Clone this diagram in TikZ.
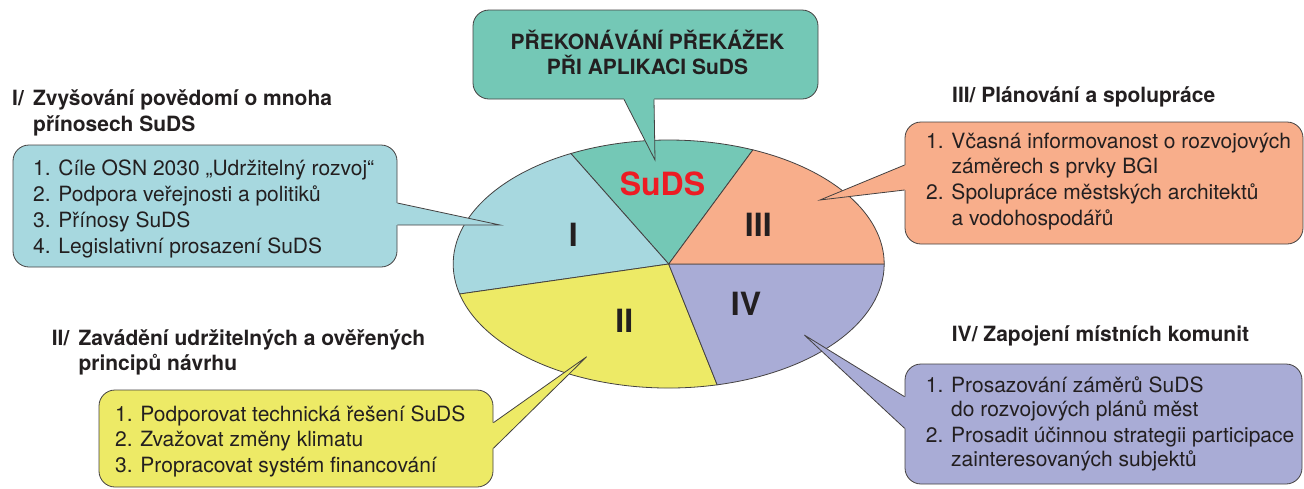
\documentclass[tikz,border=0pt]{standalone}
\usepackage{fontspec}
\setmainfont{TeX Gyre Heros}
\usetikzlibrary{calc}

\definecolor{ink}{HTML}{231F20}
\definecolor{cteal}{HTML}{74C8B6}
\definecolor{cblue}{HTML}{A7D8DF}
\definecolor{cyellow}{HTML}{EDEA66}
\definecolor{csalmon}{HTML}{F8AE8B}
\definecolor{clav}{HTML}{A9ACD6}
\definecolor{cred}{HTML}{ED1C24}

% one slice of the elliptical pie, between two parametric angles
\newcommand\pieslice[3]{%
  \filldraw[edge, fill=#1] (C) -- ++(#2:215.5pt and 124pt)
    arc[start angle=#2, end angle=#3, x radius=215.5pt, y radius=124pt] -- cycle;}

\begin{document}
\begin{tikzpicture}[x=1pt, y=-1pt,
  edge/.style={draw=ink!85, line width=0.8pt},
  box/.style={edge, rounded corners=16pt, inner sep=0pt},
  txt/.style={anchor=base west, inner sep=0pt, text=ink, font=\fontsize{21}{25}\selectfont},
  hd/.style={txt, font=\fontsize{21}{25}\selectfont\bfseries},
  hdc/.style={hd, anchor=base},
  big/.style={anchor=base, inner sep=0pt, text=ink, font=\fontsize{32}{36}\selectfont\bfseries},
]
\useasboundingbox (0,0) rectangle (1304,488);

% ---- pie ----
\coordinate (C) at (668.7,264);
\pieslice{cteal}{67}{117}
\pieslice{cblue}{117}{194}
\pieslice{cyellow}{194}{283}
\pieslice{clav}{283}{360}
\pieslice{csalmon}{0}{67}

\node[big, text=cred] (lS)   at (662.5,195) {SuDS};
\node[big]            (lI)   at (573.3,246.7) {I};
\node[big]            (lIII) at (758.3,236) {III};
\node[big]            (lIV)  at (746,315) {IV};
\node[big]            (lII)  at (624.3,332.7) {II};

% ---- top callout ----
\node[box, fill=cteal, minimum width=345pt, minimum height=89pt] (boxS) at (645.5,54.5) {};
\coordinate (tipS) at (655,160);
\fill[cteal] ([xshift=-21.5pt,yshift=1.5pt]boxS.south) -- ([xshift=-21.5pt]boxS.south) -- (tipS)
  -- ([xshift=8.5pt]boxS.south) -- ([xshift=8.5pt,yshift=1.5pt]boxS.south) -- cycle;
\draw[edge] ([xshift=-21.5pt]boxS.south) -- (tipS) -- ([xshift=8.5pt]boxS.south);
\node[hdc] (tS1) at (647.5,49) {PŘEKONÁVÁNÍ PŘEKÁŽEK};
\node[hdc] (tS2) at (647.5,74) {PŘI APLIKACI SuDS};

% ---- callout I ----
\node[box, fill=cblue, minimum width=384pt, minimum height=122pt] (boxI) at (205,206) {};
\coordinate (tipI) at (500,225);
\fill[cblue] ([xshift=-1.5pt,yshift=3pt]boxI.east) -- ([yshift=3pt]boxI.east) -- (tipI)
  -- ([yshift=-19pt]boxI.east) -- ([xshift=-1.5pt,yshift=-19pt]boxI.east) -- cycle;
\draw[edge] ([yshift=3pt]boxI.east) -- (tipI) -- ([yshift=-19pt]boxI.east);
\node[hd] (hI0) at (12,105) {I/};
\node[hd] (hI1) at (33,105) {Zvyšování povědomí o mnoha};
\node[hd] (hI2) at (33,131) {přínosech SuDS};
\node[txt] (iI1) at (33,175) {1. Cíle OSN 2030 „Udržitelný rozvoj“};
\node[txt] (iI2) at (33,201) {2. Podpora veřejnosti a politiků};
\node[txt] (iI3) at (33,227) {3. Přínosy SuDS};
\node[txt] (iI4) at (33,253) {4. Legislativní prosazení SuDS};

% ---- callout III ----
\node[box, fill=csalmon, minimum width=398pt, minimum height=122pt] (boxIII) at (1104,183) {};
\coordinate (tipIII) at (820,200);
\fill[csalmon] ([xshift=1.5pt,yshift=18pt]boxIII.west) -- ([yshift=18pt]boxIII.west) -- (tipIII)
  -- ([yshift=-7pt]boxIII.west) -- ([xshift=1.5pt,yshift=-7pt]boxIII.west) -- cycle;
\draw[edge] ([yshift=18pt]boxIII.west) -- (tipIII) -- ([yshift=-7pt]boxIII.west);
\node[hd] (hIII) at (952,102) {III/ Plánování a spolupráce};
\node[txt] (iIII1) at (926,148.5) {1. Včasná informovanost o rozvojových};
\node[txt] (iIII2) at (926,173.5) {\phantom{1. }záměrech s prvky BGI};
\node[txt] (iIII3) at (926,199.5) {2. Spolupráce městských architektů};
\node[txt] (iIII4) at (926,225) {\phantom{2. }a vodohospodářů};

% ---- callout II ----
\node[box, fill=cyellow, minimum width=394pt, minimum height=97pt] (boxII) at (296,438.5) {};
\coordinate (tipII) at (586.7,356.7);
\fill[cyellow] ([xshift=-1.5pt,yshift=15.8pt]boxII.east) -- ([yshift=15.8pt]boxII.east) -- (tipII)
  -- ([yshift=-9.8pt]boxII.east) -- ([xshift=-1.5pt,yshift=-9.8pt]boxII.east) -- cycle;
\draw[edge] ([yshift=15.8pt]boxII.east) -- (tipII) -- ([yshift=-9.8pt]boxII.east);
\node[hd] (hII0) at (51.7,345) {II/};
\node[hd] (hII1) at (78.3,345) {Zavádění udržitelných a ověřených};
\node[hd] (hII2) at (78.3,370) {principů návrhu};
\node[txt] (iII1) at (115,421.7) {1. Podporovat technická řešení SuDS};
\node[txt] (iII2) at (115,446.7) {2. Zvažovat změny klimatu};
\node[txt] (iII3) at (115,472.5) {3. Propracovat systém financování};

% ---- callout IV ----
\node[box, fill=clav, minimum width=397pt, minimum height=120pt] (boxIV) at (1103.5,424) {};
\coordinate (tipIV) at (804.3,335);
\fill[clav] ([xshift=1.5pt,yshift=27.3pt]boxIV.west) -- ([yshift=27.3pt]boxIV.west) -- (tipIV)
  -- ([yshift=-4.3pt]boxIV.west) -- ([xshift=1.5pt,yshift=-4.3pt]boxIV.west) -- cycle;
\draw[edge] ([yshift=27.3pt]boxIV.west) -- (tipIV) -- ([yshift=-4.3pt]boxIV.west);
\node[hd] (hIV) at (951.7,341.7) {IV/ Zapojení místních komunit};
\node[txt] (iIV1) at (925.7,392) {1. Prosazování záměrů SuDS};
\node[txt] (iIV2) at (925.7,416.5) {\phantom{1. }do rozvojových plánů měst};
\node[txt] (iIV3) at (925.7,442) {2. Prosadit účinnou strategii participace};
\node[txt] (iIV4) at (925.7,466.5) {\phantom{2. }zainteresovaných subjektů};
\end{tikzpicture}
\end{document}
